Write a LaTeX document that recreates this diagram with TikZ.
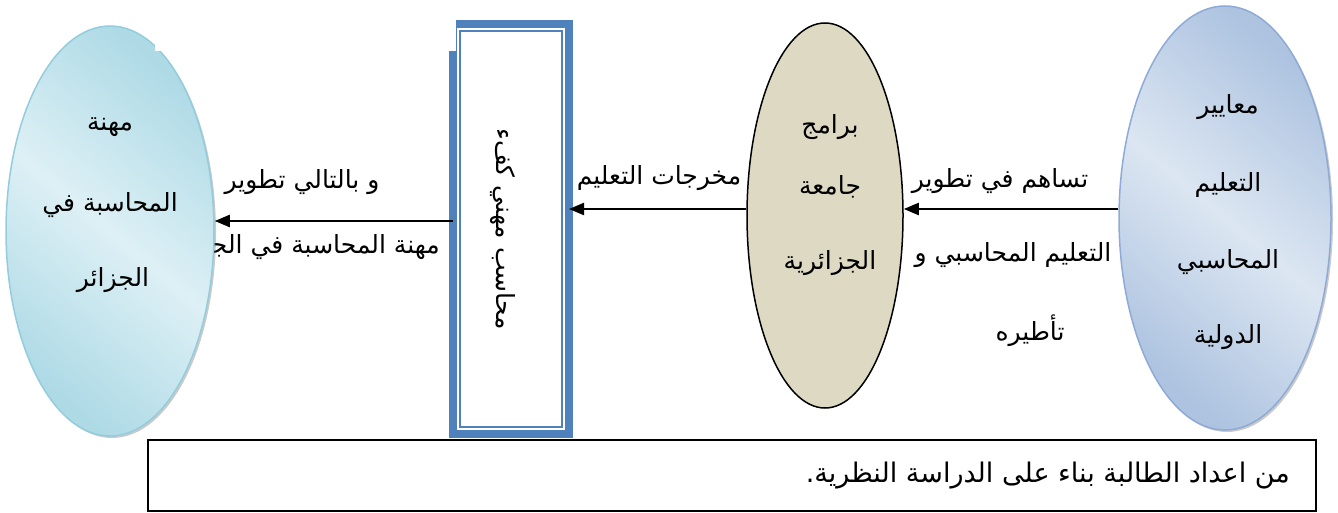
\documentclass[tikz,border=0pt]{standalone}
\usepackage{fontspec}
\usetikzlibrary{arrows.meta,shapes.geometric,shadows}
\newfontfamily\arabicfont[Script=Arabic]{DejaVu Sans}
\TeXXeTstate=1
\newcommand{\artxt}[1]{\arabicfont\beginR #1\endR}

\definecolor{frameblue}{HTML}{4F81BD}
\definecolor{cyanedge}{HTML}{93CDDD}
\definecolor{cyandark}{HTML}{AEDAE6}
\definecolor{cyanlight}{HTML}{DDF0F5}
\definecolor{blueedge}{HTML}{8EAAD6}
\definecolor{bluedark}{HTML}{ADC3E0}
\definecolor{bluelight}{HTML}{DCE6F2}
\definecolor{tanfill}{HTML}{DDD9C3}

\tikzset{
  txt/.style={inner sep=0pt, font=\fontsize{25}{30}\selectfont},
  smalltxt/.style={inner sep=0pt, font=\fontsize{27}{32}\selectfont},
  flow/.style={line width=2.2pt, -{Triangle[length=15pt,width=12pt]}},
  softshadow/.style={drop shadow={shadow xshift=2pt, shadow yshift=-2pt, opacity=0.35, fill=black!60}},
}

\begin{document}
\begin{tikzpicture}[x=1pt, y=-1pt]
\useasboundingbox (0,0) rectangle (1338,513);

% label partly hidden behind the left ellipse
\node[txt, anchor=east] (lblB2) at (440,247) {\artxt{مهنة المحاسبة في الجزائر}};

% left ellipse: the profession
\node[ellipse, draw=cyanedge, line width=1.5pt, minimum width=208pt, minimum height=410pt,
      inner sep=0pt, top color=cyandark, bottom color=cyandark, middle color=cyanlight,
      shading angle=-40, softshadow] (le) at (110,231) {};
\fill[white] (155,0) rectangle (162,51);
\node[txt] (le1) at (110,127) {\artxt{مهنة}};
\node[txt] (le2) at (110,205) {\artxt{المحاسبة في}};
\node[txt] (le3) at (113,280) {\artxt{الجزائر}};

% framed box: the competent accountant
\node[draw=frameblue, fill=white, line width=8pt, outer sep=0pt, inner sep=0pt,
      minimum width=116pt, minimum height=410pt] (box) at (511,229) {};
\draw[frameblue, line width=2pt] ([shift={(7pt,-7pt)}]box.north west) rectangle ([shift={(-7pt,7pt)}]box.south east);
\fill[white] (448,15) rectangle (456,51);
\node[txt, rotate=-90] (boxt) at (503,229) {\artxt{محاسب مهني كفء}};

% middle ellipse: university programmes
\node[ellipse, draw=black, line width=1.5pt, fill=tanfill, minimum width=156pt,
      minimum height=385pt, inner sep=0pt] (me) at (825,215.5) {};
\node[txt] (me1) at (830,127) {\artxt{برامج}};
\node[txt] (me2) at (830,187) {\artxt{جامعة}};
\node[txt] (me3) at (830,263) {\artxt{الجزائرية}};

% right ellipse: international standards
\node[ellipse, draw=blueedge, line width=1.5pt, minimum width=212pt, minimum height=424pt,
      inner sep=0pt, top color=bluedark, bottom color=bluedark, middle color=bluelight,
      shading angle=-40, softshadow] (re) at (1225,218) {};
\node[txt] (re1) at (1228,107) {\artxt{معايير}};
\node[txt] (re2) at (1228,185) {\artxt{التعليم}};
\node[txt] (re3) at (1228,262) {\artxt{المحاسبي}};
\node[txt] (re4) at (1228,337) {\artxt{الدولية}};

% connectors
\draw[flow] ([yshift=9pt]re.west) -- ([yshift=6.5pt]me.east);
\draw[flow] ([yshift=6.5pt]me.west) -- ([yshift=20pt]box.east);
\draw[flow] ([yshift=8pt]box.west) -- ([yshift=10pt]le.east);

% connector labels
\node[txt] (lblA1) at (1000,181) {\artxt{تساهم في تطوير}};
\node[txt] (lblA2) at (1013,255) {\artxt{التعليم المحاسبي و}};
\node[txt] (lblA3) at (1030,331) {\artxt{تأطيره}};
\node[txt] (lblM) at (659,178) {\artxt{مخرجات التعليم}};
\node[txt] (lblB1) at (302,182) {\artxt{و بالتالي تطوير}};

% source note
\node[draw=black, line width=1.5pt, outer sep=0pt, inner sep=0pt,
      minimum width=1168pt, minimum height=71pt] (src) at (732,475.5) {};
\node[smalltxt, anchor=east] (srct) at (1290,476) {\artxt{من اعداد الطالبة بناء على الدراسة النظرية.}};
\end{tikzpicture}
\end{document}
